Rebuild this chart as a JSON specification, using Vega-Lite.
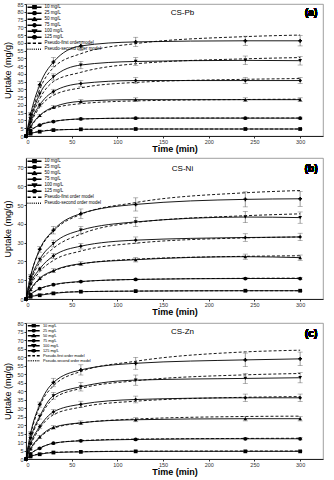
{
"$schema": "https://vega.github.io/schema/vega-lite/v6.json",
"background": "white",
"padding": {"left": 3, "top": 1, "right": 9, "bottom": 0},
"spacing": 3,
"config": {
 "font": "Liberation Sans",
 "view": {"stroke": "#888", "strokeWidth": 0.8},
 "axis": {"labelFontSize": 5.5, "labelColor": "#333", "tickSize": 2, "tickColor": "#333", "domainColor": "#222", "labelPadding": 1, "grid": false, "titleFontSize": 9, "titleColor": "black"},
 "axisX": {"titleFontWeight": "bold", "titlePadding": 0},
 "axisY": {"titleFontWeight": "normal", "titlePadding": 4},
 "legend": {"orient": "top-left", "offset": 1, "padding": 0, "labelFontSize": 4.5, "rowPadding": 0, "clipHeight": 4.4, "labelOffset": 12.5, "symbolSize": 9, "labelColor": "black", "symbolOpacity": 1},
 "title": {"fontSize": 8, "fontWeight": "normal", "color": "black", "anchor": "middle", "dx": 8}
},
"datasets": {
 "Pb": [
  {"c":"10 mg/L","t":0,"q":0,"p":0,"e":0},{"c":"10 mg/L","t":5,"q":1.5,"p":1.6,"e":0.2},{"c":"10 mg/L","t":15,"q":2.8,"p":3.0,"e":0.2},{"c":"10 mg/L","t":30,"q":3.8,"p":3.9,"e":0.3},{"c":"10 mg/L","t":60,"q":4.3,"p":4.3,"e":0.3},{"c":"10 mg/L","t":120,"q":4.5,"p":4.5,"e":0.3},{"c":"10 mg/L","t":240,"q":4.5,"p":4.5,"e":0.3},{"c":"10 mg/L","t":300,"q":4.5,"p":4.5,"e":0.3},
  {"c":"25 mg/L","t":0,"q":0,"p":0,"e":0},{"c":"25 mg/L","t":5,"q":3.5,"p":3.2,"e":0.3},{"c":"25 mg/L","t":15,"q":7,"p":7.2,"e":0.4},{"c":"25 mg/L","t":30,"q":9.3,"p":9.5,"e":0.5},{"c":"25 mg/L","t":60,"q":11,"p":10.9,"e":0.6},{"c":"25 mg/L","t":120,"q":11.5,"p":11.5,"e":0.6},{"c":"25 mg/L","t":240,"q":11.5,"p":11.6,"e":0.6},{"c":"25 mg/L","t":300,"q":11.5,"p":11.6,"e":0.6},
  {"c":"50 mg/L","t":0,"q":0,"p":0,"e":0},{"c":"50 mg/L","t":5,"q":6,"p":5.5,"e":0.5},{"c":"50 mg/L","t":15,"q":13.2,"p":13,"e":0.8},{"c":"50 mg/L","t":30,"q":18.6,"p":17.8,"e":1},{"c":"50 mg/L","t":60,"q":22.3,"p":20.8,"e":1.1},{"c":"50 mg/L","t":120,"q":23.4,"p":22.6,"e":1.2},{"c":"50 mg/L","t":240,"q":23.4,"p":23.5,"e":1.2},{"c":"50 mg/L","t":300,"q":23.4,"p":23.7,"e":1.2},
  {"c":"75 mg/L","t":0,"q":0,"p":0,"e":0},{"c":"75 mg/L","t":5,"q":9,"p":8,"e":0.6},{"c":"75 mg/L","t":15,"q":20,"p":18.5,"e":1.2},{"c":"75 mg/L","t":30,"q":28.6,"p":26.2,"e":1.5},{"c":"75 mg/L","t":60,"q":33.8,"p":31,"e":1.8},{"c":"75 mg/L","t":120,"q":35.7,"p":34.5,"e":2},{"c":"75 mg/L","t":240,"q":35.7,"p":36.5,"e":2},{"c":"75 mg/L","t":300,"q":35.7,"p":37,"e":2},
  {"c":"100 mg/L","t":0,"q":0,"p":0,"e":0},{"c":"100 mg/L","t":5,"q":11,"p":10,"e":0.8},{"c":"100 mg/L","t":15,"q":27,"p":24,"e":1.5},{"c":"100 mg/L","t":30,"q":38,"p":35,"e":2},{"c":"100 mg/L","t":60,"q":45.7,"p":41,"e":2.4},{"c":"100 mg/L","t":120,"q":48,"p":46.5,"e":2.5},{"c":"100 mg/L","t":240,"q":48.7,"p":49.7,"e":2.8},{"c":"100 mg/L","t":300,"q":48.5,"p":50.5,"e":2.8},
  {"c":"125 mg/L","t":0,"q":0,"p":0,"e":0},{"c":"125 mg/L","t":5,"q":14,"p":12,"e":1},{"c":"125 mg/L","t":15,"q":33,"p":30,"e":2},{"c":"125 mg/L","t":30,"q":47.6,"p":44,"e":3},{"c":"125 mg/L","t":60,"q":58,"p":53,"e":3},{"c":"125 mg/L","t":120,"q":60.6,"p":59.5,"e":3},{"c":"125 mg/L","t":240,"q":61.3,"p":64,"e":3},{"c":"125 mg/L","t":300,"q":61.3,"p":65,"e":3.3}
 ],
 "Ni": [
  {"c":"10 mg/L","t":0,"q":0,"p":0,"e":0},{"c":"10 mg/L","t":5,"q":1.2,"p":1.3,"e":0.2},{"c":"10 mg/L","t":15,"q":2,"p":2.3,"e":0.2},{"c":"10 mg/L","t":30,"q":3,"p":3.2,"e":0.3},{"c":"10 mg/L","t":60,"q":3.9,"p":3.9,"e":0.3},{"c":"10 mg/L","t":120,"q":4.2,"p":4.2,"e":0.3},{"c":"10 mg/L","t":240,"q":4.4,"p":4.4,"e":0.3},{"c":"10 mg/L","t":300,"q":4.4,"p":4.4,"e":0.3},
  {"c":"25 mg/L","t":0,"q":0,"p":0,"e":0},{"c":"25 mg/L","t":5,"q":2.5,"p":2.4,"e":0.3},{"c":"25 mg/L","t":15,"q":5.5,"p":5.4,"e":0.4},{"c":"25 mg/L","t":30,"q":7.6,"p":7.5,"e":0.5},{"c":"25 mg/L","t":60,"q":9.3,"p":9.2,"e":0.6},{"c":"25 mg/L","t":120,"q":10.4,"p":10.4,"e":0.6},{"c":"25 mg/L","t":240,"q":10.9,"p":11,"e":0.6},{"c":"25 mg/L","t":300,"q":10.9,"p":11.1,"e":0.6},
  {"c":"50 mg/L","t":0,"q":0,"p":0,"e":0},{"c":"50 mg/L","t":5,"q":5,"p":4.6,"e":0.5},{"c":"50 mg/L","t":15,"q":11,"p":10.5,"e":0.8},{"c":"50 mg/L","t":30,"q":15.1,"p":14.8,"e":1},{"c":"50 mg/L","t":60,"q":18.8,"p":18.6,"e":1},{"c":"50 mg/L","t":120,"q":20.9,"p":21.2,"e":1.2},{"c":"50 mg/L","t":240,"q":22.5,"p":22.7,"e":1.4},{"c":"50 mg/L","t":300,"q":22,"p":23,"e":1.4},
  {"c":"75 mg/L","t":0,"q":0,"p":0,"e":0},{"c":"75 mg/L","t":5,"q":8,"p":7,"e":0.6},{"c":"75 mg/L","t":15,"q":16,"p":14.5,"e":1},{"c":"75 mg/L","t":30,"q":22.9,"p":20.5,"e":1.3},{"c":"75 mg/L","t":60,"q":28.1,"p":25.5,"e":1.5},{"c":"75 mg/L","t":120,"q":31.3,"p":29.7,"e":1.7},{"c":"75 mg/L","t":240,"q":32.7,"p":32.5,"e":2},{"c":"75 mg/L","t":300,"q":33,"p":33,"e":2},
  {"c":"100 mg/L","t":0,"q":0,"p":0,"e":0},{"c":"100 mg/L","t":5,"q":10,"p":9,"e":0.8},{"c":"100 mg/L","t":15,"q":21,"p":19.5,"e":1.3},{"c":"100 mg/L","t":30,"q":29.5,"p":27,"e":1.8},{"c":"100 mg/L","t":60,"q":36.6,"p":34.5,"e":2},{"c":"100 mg/L","t":120,"q":41,"p":40.7,"e":2.5},{"c":"100 mg/L","t":240,"q":43.6,"p":44.3,"e":3},{"c":"100 mg/L","t":300,"q":43.3,"p":45.3,"e":3},
  {"c":"125 mg/L","t":0,"q":0,"p":0,"e":0},{"c":"125 mg/L","t":5,"q":12,"p":12,"e":1},{"c":"125 mg/L","t":15,"q":26.4,"p":26,"e":1.5},{"c":"125 mg/L","t":30,"q":36.6,"p":36,"e":2},{"c":"125 mg/L","t":60,"q":45.4,"p":45,"e":2.5},{"c":"125 mg/L","t":120,"q":50.3,"p":51.3,"e":3.5},{"c":"125 mg/L","t":240,"q":53,"p":56.5,"e":4},{"c":"125 mg/L","t":300,"q":53.3,"p":57.7,"e":4}
 ],
 "Zn": [
  {"c":"10 mg/L","t":0,"q":0,"p":0,"e":0},{"c":"10 mg/L","t":5,"q":1.5,"p":1.6,"e":0.2},{"c":"10 mg/L","t":15,"q":2.8,"p":3,"e":0.2},{"c":"10 mg/L","t":30,"q":3.8,"p":3.9,"e":0.3},{"c":"10 mg/L","t":60,"q":4.2,"p":4.3,"e":0.3},{"c":"10 mg/L","t":120,"q":4.5,"p":4.6,"e":0.3},{"c":"10 mg/L","t":240,"q":4.5,"p":4.7,"e":0.3},{"c":"10 mg/L","t":300,"q":4.5,"p":4.7,"e":0.3},
  {"c":"25 mg/L","t":0,"q":0,"p":0,"e":0},{"c":"25 mg/L","t":5,"q":3,"p":3,"e":0.3},{"c":"25 mg/L","t":15,"q":6.3,"p":6.5,"e":0.4},{"c":"25 mg/L","t":30,"q":9.3,"p":9.2,"e":0.5},{"c":"25 mg/L","t":60,"q":10.7,"p":10.8,"e":0.6},{"c":"25 mg/L","t":120,"q":11.5,"p":11.7,"e":0.6},{"c":"25 mg/L","t":240,"q":11.9,"p":12.1,"e":0.6},{"c":"25 mg/L","t":300,"q":11.9,"p":12.2,"e":0.6},
  {"c":"50 mg/L","t":0,"q":0,"p":0,"e":0},{"c":"50 mg/L","t":5,"q":6,"p":5.5,"e":0.5},{"c":"50 mg/L","t":15,"q":13,"p":12.5,"e":0.8},{"c":"50 mg/L","t":30,"q":18.6,"p":18,"e":1},{"c":"50 mg/L","t":60,"q":21.3,"p":21.2,"e":1.1},{"c":"50 mg/L","t":120,"q":23.1,"p":23.5,"e":1.2},{"c":"50 mg/L","t":240,"q":23.7,"p":25,"e":1.3},{"c":"50 mg/L","t":300,"q":23.7,"p":25.2,"e":1.3},
  {"c":"75 mg/L","t":0,"q":0,"p":0,"e":0},{"c":"75 mg/L","t":5,"q":9,"p":8,"e":0.6},{"c":"75 mg/L","t":15,"q":19,"p":18,"e":1.2},{"c":"75 mg/L","t":30,"q":27.7,"p":26,"e":1.5},{"c":"75 mg/L","t":60,"q":32.2,"p":30.5,"e":1.8},{"c":"75 mg/L","t":120,"q":35,"p":34,"e":2},{"c":"75 mg/L","t":240,"q":36,"p":36.3,"e":2.2},{"c":"75 mg/L","t":300,"q":36,"p":36.7,"e":2.2},
  {"c":"100 mg/L","t":0,"q":0,"p":0,"e":0},{"c":"100 mg/L","t":5,"q":12,"p":11,"e":0.8},{"c":"100 mg/L","t":15,"q":25,"p":24,"e":1.5},{"c":"100 mg/L","t":30,"q":37.2,"p":35.5,"e":2},{"c":"100 mg/L","t":60,"q":42.5,"p":41.5,"e":2.5},{"c":"100 mg/L","t":120,"q":46.4,"p":46,"e":3},{"c":"100 mg/L","t":240,"q":47.4,"p":49.5,"e":3},{"c":"100 mg/L","t":300,"q":47.8,"p":50.3,"e":3},
  {"c":"125 mg/L","t":0,"q":0,"p":0,"e":0},{"c":"125 mg/L","t":5,"q":15,"p":14,"e":1},{"c":"125 mg/L","t":15,"q":32,"p":31,"e":1.5},{"c":"125 mg/L","t":30,"q":45,"p":43,"e":2.5},{"c":"125 mg/L","t":60,"q":52.4,"p":51.5,"e":3},{"c":"125 mg/L","t":120,"q":56.3,"p":57.5,"e":3.5},{"c":"125 mg/L","t":240,"q":58.3,"p":63,"e":4},{"c":"125 mg/L","t":300,"q":58.9,"p":64,"e":4}
 ]
},
"vconcat": [
 {
  "width": 297, "height": 132,
  "data": {"name": "Pb"},
  "title": {"text": "CS-Pb", "offset": -15},
  "resolve": {"scale": {"shape": "independent"}},
  "encoding": {
   "x": {"field": "t", "type": "quantitative", "scale": {"domain": [0, 325], "nice": false}, "axis": {"values": [0,50,100,150,200,250,300], "title": "Time (min)"}},
   "y": {"field": "q", "type": "quantitative", "scale": {"domain": [0, 85], "nice": false}, "axis": {"values": [0,5,10,15,20,25,30,35,40,45,50,55,60,65,70,75,80,85], "title": "Uptake (mg/g)"}}
  },
  "layer": [
   {"mark": {"type": "line", "interpolate": "monotone", "color": "black", "strokeWidth": 0.9}, "encoding": {"detail": {"field": "c"}}},
   {"mark": {"type": "line", "interpolate": "monotone", "color": "black", "strokeWidth": 0.9, "strokeDash": [3, 2]}, "encoding": {"y": {"field": "p", "type": "quantitative", "title": "Uptake (mg/g)"}, "detail": {"field": "c"}}},
   {"transform": [{"filter": "datum.t > 0"}], "mark": {"type": "errorbar", "ticks": true, "color": "#555", "thickness": 0.6}, "encoding": {"y": {"field": "q", "type": "quantitative", "title": "Uptake (mg/g)"}, "yError": {"field": "e"}}},
   {"mark": {"type": "point", "filled": true, "size": 14, "color": "black", "opacity": 1}, "encoding": {"shape": {"field": "c", "scale": {"domain": ["10 mg/L","25 mg/L","50 mg/L","75 mg/L","100 mg/L","125 mg/L"], "range": ["square","circle","triangle-up","diamond","triangle-down","cross"]}, "legend": null}}},
   {"transform": [{"filter": "false"}], "mark": {"type": "point", "filled": true, "fill": "black", "stroke": "black", "strokeWidth": 0.7, "opacity": 1}, "encoding": {"shape": {"field": "c", "scale": {"domain": ["10 mg/L","25 mg/L","50 mg/L","75 mg/L","100 mg/L","125 mg/L","Pseudo-first order model","Pseudo-second order model"], "range": ["M-1.33,0H8M2.27,-1.07H4.4V1.07H2.27Z","M-1.33,0H8M2.23,0A1.1,1.1 0 1,0 4.43,0A1.1,1.1 0 1,0 2.23,0Z","M-1.33,0H8M3.33,-1.2L4.5,0.8H2.17Z","M-1.33,0H8M3.33,-1.3L4.63,0L3.33,1.3L2.03,0Z","M-1.33,0H8M3.33,1.2L4.5,-0.8H2.17Z","M-1.33,0H8M2.93,-1.2H3.73V-0.4H4.53V0.4H3.73V1.2H2.93V0.4H2.13V-0.4H2.93Z","M-1.33,0H0.8M2.2,0H4.33M5.73,0H8","M-1.33,0H-0.73M0.07,0H0.67M1.47,0H2.07M2.87,0H3.47M4.27,0H4.87M5.67,0H6.27M7.07,0H7.67"]}, "legend": {"title": null, "symbolSize": 9}}}},
   {"mark": {"type": "text", "fontSize": 10, "fontWeight": "bold", "color": "black"}, "encoding": {"x": {"datum": 312}, "y": {"datum": 79.5}, "text": {"value": "(a)"}}}
  ]
 },
 {
  "width": 297, "height": 141,
  "data": {"name": "Ni"},
  "title": {"text": "CS-Ni", "offset": -15},
  "resolve": {"scale": {"shape": "independent"}},
  "encoding": {
   "x": {"field": "t", "type": "quantitative", "scale": {"domain": [0, 325], "nice": false}, "axis": {"values": [0,50,100,150,200,250,300], "title": "Time (min)"}},
   "y": {"field": "q", "type": "quantitative", "scale": {"domain": [0, 75], "nice": false}, "axis": {"values": [0,10,20,30,40,50,60,70], "title": "Uptake (mg/g)"}}
  },
  "layer": [
   {"mark": {"type": "line", "interpolate": "monotone", "color": "black", "strokeWidth": 0.9}, "encoding": {"detail": {"field": "c"}}},
   {"mark": {"type": "line", "interpolate": "monotone", "color": "black", "strokeWidth": 0.9, "strokeDash": [3, 2]}, "encoding": {"y": {"field": "p", "type": "quantitative", "title": "Uptake (mg/g)"}, "detail": {"field": "c"}}},
   {"transform": [{"filter": "datum.t > 0"}], "mark": {"type": "errorbar", "ticks": true, "color": "#555", "thickness": 0.6}, "encoding": {"y": {"field": "q", "type": "quantitative", "title": "Uptake (mg/g)"}, "yError": {"field": "e"}}},
   {"mark": {"type": "point", "filled": true, "size": 14, "color": "black", "opacity": 1}, "encoding": {"shape": {"field": "c", "scale": {"domain": ["10 mg/L","25 mg/L","50 mg/L","75 mg/L","100 mg/L","125 mg/L"], "range": ["square","circle","triangle-up","diamond","triangle-down","cross"]}, "legend": null}}},
   {"transform": [{"filter": "false"}], "mark": {"type": "point", "filled": true, "fill": "black", "stroke": "black", "strokeWidth": 0.7, "opacity": 1}, "encoding": {"shape": {"field": "c", "scale": {"domain": ["10 mg/L","25 mg/L","50 mg/L","75 mg/L","100 mg/L","125 mg/L","Pseudo-first order model","Pseudo-second order model"], "range": ["M-1.33,0H8M2.27,-1.07H4.4V1.07H2.27Z","M-1.33,0H8M2.23,0A1.1,1.1 0 1,0 4.43,0A1.1,1.1 0 1,0 2.23,0Z","M-1.33,0H8M3.33,-1.2L4.5,0.8H2.17Z","M-1.33,0H8M3.33,-1.3L4.63,0L3.33,1.3L2.03,0Z","M-1.33,0H8M3.33,1.2L4.5,-0.8H2.17Z","M-1.33,0H8M2.93,-1.2H3.73V-0.4H4.53V0.4H3.73V1.2H2.93V0.4H2.13V-0.4H2.93Z","M-1.33,0H0.8M2.2,0H4.33M5.73,0H8","M-1.33,0H-0.73M0.07,0H0.67M1.47,0H2.07M2.87,0H3.47M4.27,0H4.87M5.67,0H6.27M7.07,0H7.67"]}, "legend": {"title": null, "symbolSize": 9}}}},
   {"mark": {"type": "text", "fontSize": 10, "fontWeight": "bold", "color": "black"}, "encoding": {"x": {"datum": 312}, "y": {"datum": 69}, "text": {"value": "(b)"}}}
  ]
 },
 {
  "width": 297, "height": 136,
  "data": {"name": "Zn"},
  "title": {"text": "CS-Zn", "offset": -15},
  "resolve": {"scale": {"shape": "independent"}},
  "encoding": {
   "x": {"field": "t", "type": "quantitative", "scale": {"domain": [0, 325], "nice": false}, "axis": {"values": [0,50,100,150,200,250,300], "title": "Time (min)"}},
   "y": {"field": "q", "type": "quantitative", "scale": {"domain": [0, 80], "nice": false}, "axis": {"values": [0,5,10,15,20,25,30,35,40,45,50,55,60,65,70,75,80], "title": "Uptake (mg/g)"}}
  },
  "layer": [
   {"mark": {"type": "line", "interpolate": "monotone", "color": "black", "strokeWidth": 0.9}, "encoding": {"detail": {"field": "c"}}},
   {"mark": {"type": "line", "interpolate": "monotone", "color": "black", "strokeWidth": 0.9, "strokeDash": [3, 2]}, "encoding": {"y": {"field": "p", "type": "quantitative", "title": "Uptake (mg/g)"}, "detail": {"field": "c"}}},
   {"transform": [{"filter": "datum.t > 0"}], "mark": {"type": "errorbar", "ticks": true, "color": "#555", "thickness": 0.6}, "encoding": {"y": {"field": "q", "type": "quantitative", "title": "Uptake (mg/g)"}, "yError": {"field": "e"}}},
   {"mark": {"type": "point", "filled": true, "size": 14, "color": "black", "opacity": 1}, "encoding": {"shape": {"field": "c", "scale": {"domain": ["10 mg/L","25 mg/L","50 mg/L","75 mg/L","100 mg/L","125 mg/L"], "range": ["square","circle","triangle-up","diamond","triangle-down","cross"]}, "legend": null}}},
   {"transform": [{"filter": "false"}], "mark": {"type": "point", "filled": true, "fill": "black", "stroke": "black", "strokeWidth": 0.7, "opacity": 1}, "encoding": {"shape": {"field": "c", "scale": {"domain": ["10 mg/L","25 mg/L","50 mg/L","75 mg/L","100 mg/L","125 mg/L","Pseudo-first order model","Pseudo-second order model"], "range": ["M-1.33,0H8M2.27,-1.07H4.4V1.07H2.27Z","M-1.33,0H8M2.23,0A1.1,1.1 0 1,0 4.43,0A1.1,1.1 0 1,0 2.23,0Z","M-1.33,0H8M3.33,-1.2L4.5,0.8H2.17Z","M-1.33,0H8M3.33,-1.3L4.63,0L3.33,1.3L2.03,0Z","M-1.33,0H8M3.33,1.2L4.5,-0.8H2.17Z","M-1.33,0H8M2.93,-1.2H3.73V-0.4H4.53V0.4H3.73V1.2H2.93V0.4H2.13V-0.4H2.93Z","M-1.33,0H0.8M2.2,0H4.33M5.73,0H8","M-1.33,0H-0.73M0.07,0H0.67M1.47,0H2.07M2.87,0H3.47M4.27,0H4.87M5.67,0H6.27M7.07,0H7.67"]}, "legend": {"title": null, "symbolSize": 6.5, "labelFontSize": 3.8, "clipHeight": 3.5, "labelOffset": 11}}}},
   {"mark": {"type": "text", "fontSize": 10, "fontWeight": "bold", "color": "black"}, "encoding": {"x": {"datum": 312}, "y": {"datum": 73.5}, "text": {"value": "(c)"}}}
  ]
 }
]
}
